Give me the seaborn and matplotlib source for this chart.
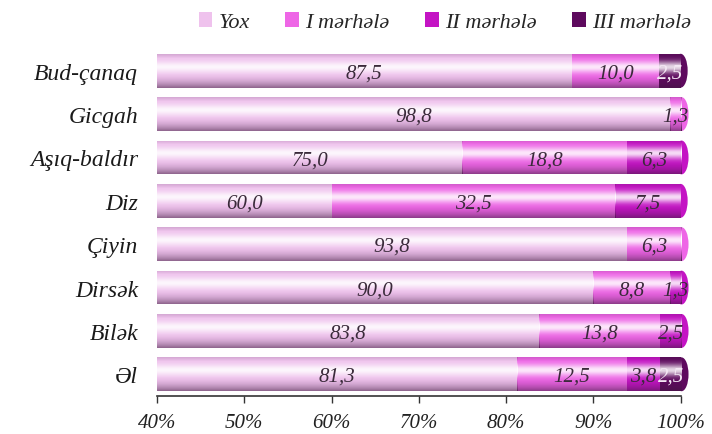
import numpy as np
import pandas as pd
import matplotlib
matplotlib.use("Agg")
import matplotlib.pyplot as plt
import seaborn as sns
from matplotlib.patches import Patch, Ellipse

# data (percent)
categories = ["Bud-çanaq", "Gicgah", "Aşıq-baldır", "Diz", "Çiyin", "Dirsək", "Bilək", "Əl"]
yox = [87.5, 98.8, 75.0, 60.0, 93.8, 90.0, 83.8, 81.3]
stage1 = [10.0, 1.3, 18.8, 32.5, 6.3, 8.8, 13.8, 12.5]
stage2 = [0.0, 0.0, 6.3, 7.5, 0.0, 1.3, 2.5, 3.8]
stage3 = [2.5, 0.0, 0.0, 0.0, 0.0, 0.0, 0.0, 2.5]
series_names = ["Yox", "I mərhələ", "II mərhələ", "III mərhələ"]
colors = ["#efc2ed", "#ee66e6", "#c414c4", "#5e0a5e"]
text_colors = ["#3a2a3a", "#3a2a3a", "#3a2a3a", "#f4e8f4"]

df = pd.DataFrame({"cat": categories, "s0": yox, "s1": stage1, "s2": stage2, "s3": stage3})
df["c0"] = df["s0"]
df["c1"] = df["c0"] + df["s1"]
df["c2"] = df["c1"] + df["s2"]
df["c3"] = df["c2"] + df["s3"]

sns.set_style("white")
plt.rcParams["font.family"] = ["Liberation Serif", "DejaVu Serif"]
plt.rcParams["font.style"] = "italic"

fig = plt.figure(figsize=(7.12, 4.35), dpi=100)
ax = fig.add_axes([0.2205, 0.0874, 0.7355, 0.7976])

XMIN, XMAX = 40, 100
BAR_H = 0.78

# cylinder-ish shading: white highlight and dark lower edge
n = 60
t = np.linspace(0, 1, n)
hl = np.zeros((n, 1, 4))
hl[..., :3] = 1.0
hl[:, 0, 3] = 0.85 * np.exp(-((t - 0.38) / 0.17) ** 2)
sh = np.zeros((n, 1, 4))
sh[..., :3] = [0.25, 0.1, 0.25]
sh[:, 0, 3] = 0.55 * np.clip((t - 0.55) / 0.45, 0, 1) ** 2 + 0.15 * np.clip((0.12 - t) / 0.12, 0, 1)


def shade(patch, x0, x1, y0, y1, z, outside=False):
    for j, img in enumerate([hl, sh]):
        im = ax.imshow(img, extent=(x0, x1, y1, y0), origin="upper", aspect="auto",
                       zorder=z + 0.1 + j * 0.1, interpolation="bilinear")
        im.set_clip_path(patch)
        if outside:
            im.set_clip_box(None)


# stacked bars: draw cumulative totals from longest to shortest
for k in [3, 2, 1, 0]:
    before = len(ax.patches)
    sns.barplot(data=df, x="c%d" % k, y="cat", orient="h", color=colors[k],
                saturation=1, width=BAR_H, ax=ax, linewidth=0)
    base = 2 + (3 - k)
    for p in ax.patches[before:]:
        p.set_zorder(base)
        x0, y0 = p.get_x(), p.get_y()
        w, h = p.get_width(), p.get_height()
        if w <= 0:
            continue
        shade(p, max(x0, XMIN), x0 + w, y0, y0 + h, base)

# rounded cylinder end at the right of each bar (left half hidden under the bar)
for i in range(len(categories)):
    last = max(k for k in range(4) if df["s%d" % k][i] > 0)
    end = df["c3"][i]
    cap = Ellipse((end, i), width=1.6, height=BAR_H, facecolor=colors[last],
                  edgecolor="none", zorder=1.5, clip_on=False)
    ax.add_patch(cap)
    shade(cap, end, end + 0.8, i - BAR_H / 2, i + BAR_H / 2, 1.5, outside=True)

ax.set_xlim(XMIN, XMAX)
ax.set_ylim(len(categories) - 0.5, -0.5)

# value labels centred in the visible part of each segment
for i in range(len(categories)):
    left = 0
    for k in range(4):
        v = df["s%d" % k][i]
        right = left + v
        if v > 0:
            mid = (max(left, XMIN) + right) / 2
            ax.text(mid, i + 0.05, ("%.1f" % v).replace(".", ","), ha="center", va="center",
                    fontsize=15, fontstyle="italic", color=text_colors[k], zorder=20)
        left = right

ax.set_xlabel("")
ax.set_ylabel("")
ax.tick_params(axis="x", bottom=True, length=5, width=1, color="#333333", pad=7)
ax.tick_params(axis="y", left=False, pad=10)
ax.set_xticks(range(40, 101, 10))
ax.set_xticklabels(["%d%%" % v for v in range(40, 101, 10)],
                   fontdict={"fontsize": 15, "fontstyle": "italic", "color": "#222222"})
ax.set_yticks(range(len(categories)))
ax.set_yticklabels(categories, fontdict={"fontsize": 17, "fontstyle": "italic", "color": "#1a1a1a"})
for s in ["top", "right", "left"]:
    ax.spines[s].set_visible(False)
ax.spines["bottom"].set_color("#333333")
ax.spines["bottom"].set_linewidth(1.2)

handles = [Patch(facecolor=c, edgecolor="none") for c in colors]
fig.legend(handles, series_names, loc="upper center", bbox_to_anchor=(0.625, 1.015), ncol=4,
           frameon=False, handlelength=0.6, handleheight=0.6, handletextpad=0.3,
           columnspacing=1.6, prop={"size": 16, "style": "italic"})

fig.savefig("out.png", dpi=100)
